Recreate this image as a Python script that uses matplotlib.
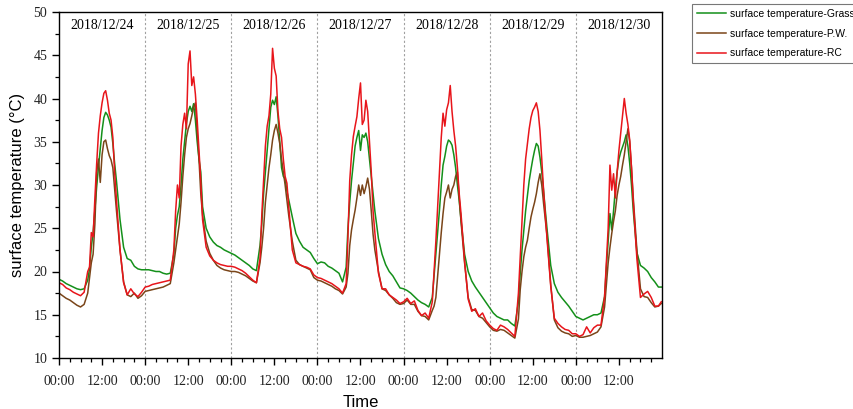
import matplotlib
matplotlib.use("Agg")
import matplotlib.pyplot as plt
from matplotlib.ticker import FixedLocator, FuncFormatter, MultipleLocator
import numpy as np

# ---------------- data ----------------
dates = ["2018/12/24", "2018/12/25", "2018/12/26", "2018/12/27",
         "2018/12/28", "2018/12/29", "2018/12/30"]
# sampling hours within each day (same for every day)
day_hours = [0, 1, 2, 3, 4, 5, 6, 7, 8,
             8.5, 9, 9.5, 10, 10.5, 11, 11.5, 12, 12.5, 13, 13.5, 14, 14.5, 15, 15.5, 16,
             17, 18, 19, 20, 21, 22, 23]
end_hour = 167.8

grass = [
    19.1, 18.9, 18.6, 18.4, 18.2, 18.0, 17.9, 18.0, 19.0,
    20.3, 22.8, 24.5, 27.1, 29.8, 32.1, 34.2, 36.3, 37.8, 38.4, 38.1, 37.5, 36.7, 34.8, 32.5, 30.5,
    26.0, 22.8, 21.5, 21.3, 20.6, 20.3, 20.2,
    20.2, 20.2, 20.1, 20.0, 20.0, 19.8, 19.7, 19.8, 22.0,
    25.0, 26.5, 27.5, 30.0, 33.0, 35.0, 37.1, 38.5, 39.1, 38.5, 39.4, 37.5, 35.0, 33.0, 31.5, 27.5,
    25.0, 24.0, 23.4, 23.0, 22.8, 22.5, 22.3,
    22.1, 21.9, 21.6, 21.3, 21.0, 20.7, 20.3, 20.1, 23.0,
    25.5, 29.0, 31.5, 34.0, 36.5, 39.0, 39.8, 39.3, 40.2, 38.0, 35.0, 32.0, 31.0, 30.7, 29.3, 28.3,
    26.3, 24.4, 23.5, 22.8, 22.5, 22.2, 21.5,
    20.9, 21.1, 21.0, 20.6, 20.4, 20.1, 19.8, 18.8, 20.5,
    25.0, 28.0, 30.5, 32.5, 34.5, 35.5, 36.3, 34.0, 35.8, 35.5, 36.0, 35.0, 33.0, 31.0, 29.0, 27.0,
    23.8, 22.0, 20.8, 20.0, 19.5, 18.8, 18.1,
    18.0, 17.8, 17.5, 17.1, 16.7, 16.4, 16.2, 15.9, 17.0,
    19.5, 22.0, 24.5, 27.1, 30.0, 32.3, 33.3, 34.5, 35.2, 35.0, 34.6, 33.5, 32.0, 30.0, 28.2, 26.0,
    22.0, 20.0, 18.9, 18.2, 17.6, 17.0, 16.4,
    15.8, 15.2, 14.8, 14.6, 14.4, 14.4, 14.0, 13.7, 16.5,
    19.8, 22.5, 24.8, 27.0, 28.8, 30.5, 31.8, 33.0, 34.0, 34.8, 34.5, 33.2, 31.5, 29.4, 27.0, 24.8,
    20.7, 18.6, 17.6, 17.0, 16.5, 16.0, 15.4,
    14.8, 14.6, 14.4, 14.6, 14.8, 15.0, 15.0, 15.2, 17.1,
    20.5, 23.5, 26.7, 24.8, 27.0, 29.5, 31.5, 33.0, 33.8, 34.4, 35.0, 35.8, 34.5, 32.5, 30.0, 27.0,
    22.2, 20.7, 20.4, 20.0, 19.3, 18.8, 18.2,
    18.2,
]

pw = [
    17.5, 17.2, 16.9, 16.7, 16.4, 16.1, 15.9, 16.2, 17.5,
    19.2, 21.0, 22.0, 25.5, 31.5, 33.0, 30.3, 33.5, 35.0, 35.2, 34.2, 33.4, 32.9, 32.0, 29.5, 27.1,
    22.5, 18.8, 17.3, 17.1, 17.5, 16.9, 17.2,
    17.7, 17.8, 17.9, 18.0, 18.1, 18.2, 18.4, 18.6, 21.0,
    22.5, 24.0, 25.5, 28.0, 31.0, 33.5, 35.5, 36.5, 37.1, 38.0, 39.0, 39.5, 36.0, 33.0, 29.0, 26.5,
    23.5, 22.1, 21.3, 20.7, 20.4, 20.2, 20.1,
    20.0, 20.0, 19.9, 19.7, 19.5, 19.2, 18.9, 18.7, 21.0,
    22.8, 25.0, 28.0, 30.0, 32.0, 33.5, 35.2, 36.3, 37.0, 36.0, 34.8, 33.0, 31.5, 30.0, 28.3, 26.5,
    23.5, 21.3, 20.8, 20.6, 20.4, 20.2, 19.3,
    19.0, 18.9, 18.7, 18.5, 18.3, 18.0, 17.8, 17.4, 18.2,
    19.8, 23.0, 24.8, 26.0, 27.1, 28.5, 30.0, 28.8, 30.0, 29.0, 29.8, 30.8, 29.5, 27.0, 24.3, 22.5,
    20.0, 18.0, 17.8, 17.3, 16.9, 16.4, 16.2,
    16.3, 16.7, 16.2, 16.2, 15.4, 14.9, 14.8, 14.4, 15.5,
    16.0, 17.0, 19.5, 22.1, 24.5, 26.7, 28.5, 29.2, 30.0, 28.5, 29.5, 30.0, 31.0, 31.5, 28.5, 25.8,
    21.0, 17.0, 15.6, 15.5, 14.8, 14.6, 14.1,
    13.6, 13.2, 13.1, 13.3, 13.2, 12.9, 12.6, 12.3, 14.5,
    17.9, 20.0, 21.7, 22.8, 23.6, 25.0, 26.3, 27.2, 28.0, 29.0, 30.3, 31.3, 30.0, 27.9, 26.0, 24.0,
    18.5, 14.4, 13.5, 13.1, 12.9, 12.8, 12.5,
    12.6, 12.4, 12.4, 12.5, 12.6, 12.8, 13.0, 13.6, 15.9,
    18.5, 21.0, 22.8, 24.4, 25.8, 27.0, 28.8, 30.0, 31.0, 32.3, 33.5, 35.0, 36.5, 35.0, 32.0, 28.5,
    22.5, 18.0, 17.1, 17.0, 16.4, 15.9, 16.0,
    16.3,
]

rc = [
    18.7, 18.5, 18.1, 17.9, 17.6, 17.4, 17.2, 17.6, 20.0,
    20.5, 24.5, 24.0, 28.5, 32.5, 36.0, 38.0, 39.5, 40.6, 40.9, 39.8, 38.3, 37.5, 35.5, 31.5, 28.3,
    22.5, 18.7, 17.3, 18.0, 17.4, 17.1, 17.6,
    18.2, 18.3, 18.5, 18.6, 18.7, 18.8, 18.9, 19.0, 22.5,
    27.0, 30.0, 28.5, 34.5, 37.0, 38.3, 36.5, 44.0, 45.5, 41.5, 42.5, 40.5, 37.5, 34.0, 30.5, 26.0,
    22.8, 21.8, 21.3, 21.0, 20.8, 20.7, 20.6,
    20.6, 20.5, 20.3, 20.1, 19.8, 19.4, 19.0, 18.7, 21.5,
    26.5, 30.5, 34.5, 36.8, 38.0, 40.5, 45.8, 43.5, 42.6, 38.5, 36.5, 35.5, 33.0, 31.0, 30.2, 27.5,
    22.5, 21.0, 20.8, 20.6, 20.5, 20.3, 19.6,
    19.3, 19.2, 19.0, 18.8, 18.6, 18.3, 18.0, 17.5, 18.6,
    24.0, 30.5, 33.5, 35.6, 36.8, 37.9, 40.0, 41.8, 37.0, 37.5, 39.8, 38.5, 35.0, 31.5, 27.0, 24.5,
    19.8, 18.0, 18.0, 17.3, 17.0, 16.7, 16.3,
    16.5, 16.9, 16.3, 16.6, 15.5, 14.9, 15.2, 14.6, 16.5,
    20.0, 23.5, 27.5, 31.7, 35.5, 38.3, 36.8, 38.7, 39.5, 41.5, 38.5, 36.3, 34.5, 32.0, 29.0, 26.7,
    21.2, 16.8, 15.4, 15.7, 14.8, 15.2, 14.3,
    13.8, 13.4, 13.2, 13.8, 13.6, 13.3, 12.9, 12.5, 17.5,
    21.7, 26.0, 30.0, 33.0, 34.8, 36.5, 37.8, 38.6, 39.0, 39.5, 38.5, 36.3, 33.0, 29.4, 26.5, 23.6,
    18.3, 14.6, 14.0, 13.6, 13.3, 13.2, 12.8,
    12.8, 12.5, 12.7, 13.6, 12.9, 13.5, 13.8, 13.8, 17.1,
    21.0, 25.0, 32.3, 29.4, 31.3, 28.5, 31.5, 34.0, 36.0, 38.0, 40.0, 38.3, 37.0, 35.2, 32.0, 28.0,
    21.5, 17.0, 17.4, 17.7, 17.0, 16.0, 16.0,
    16.5,
]

series_names = ["surface temperature-Grass", "surface temperature-P.W.",
                "surface temperature-RC"]
series_colors = ["#14901a", "#7a4519", "#e8151b"]

# ---------------- figure ----------------
hours = [d * 24 + h for d in range(len(dates)) for h in day_hours] + [end_hour]

fig = plt.figure(figsize=(8.54, 4.09), dpi=100)
ax = fig.add_axes([59 / 854, 1 - 358 / 409, (662 - 59) / 854, (358 - 12) / 409])

serif = ["Liberation Serif", "DejaVu Serif"]
sans = ["Liberation Sans", "DejaVu Sans"]

lines = []
for vals, name, col in zip([grass, pw, rc], series_names, series_colors):
    ln, = ax.plot(hours, vals, color=col, lw=1.1, label=name)
    lines.append(ln)

ax.set_xlim(0, 168)
ax.set_ylim(10, 50)

# day separators and date labels
for d, lab in enumerate(dates):
    if d > 0:
        ax.axvline(d * 24, color="#a0a0a0", lw=0.8, ls=(0, (2, 2)), zorder=0)
    ax.text(d * 24 + 12, 0.960, lab, transform=ax.get_xaxis_transform(),
            ha="center", va="center", fontsize=10, family=serif)

# ticks
ax.xaxis.set_major_locator(FixedLocator(np.arange(0, 168, 12)))
ax.xaxis.set_minor_locator(FixedLocator([h for h in range(3, 168, 3) if h % 12 != 0]))
ax.xaxis.set_major_formatter(FuncFormatter(lambda v, p: "%02d:00" % (int(round(v)) % 24)))
ax.yaxis.set_major_locator(MultipleLocator(5))
ax.yaxis.set_minor_locator(MultipleLocator(2.5))
ax.tick_params(which="major", direction="out", length=5, width=1.0, labelsize=10)
ax.tick_params(which="minor", direction="out", length=3, width=0.9)
ax.tick_params(axis="x", which="major", pad=7)
for lab in ax.get_xticklabels() + ax.get_yticklabels():
    lab.set_family(serif)
    lab.set_color("#222222")

for sp in ax.spines.values():
    sp.set_linewidth(1.0)

ax.set_ylabel("surface temperature (\u00b0C)", family=sans, fontsize=12, labelpad=6)
ax.set_xlabel("Time", family=sans, fontsize=12, labelpad=5)

leg = fig.legend(handles=lines, loc="upper left", bbox_to_anchor=(692 / 854, 1 - 4 / 409),
                 prop={"family": sans, "size": 7.5}, frameon=True, fancybox=False,
                 edgecolor="#555555", handlelength=2.8, borderpad=0.45, labelspacing=0.95,
                 handletextpad=0.4, borderaxespad=0.0)
leg.get_frame().set_linewidth(0.8)

fig.savefig("out.png", dpi=100)
